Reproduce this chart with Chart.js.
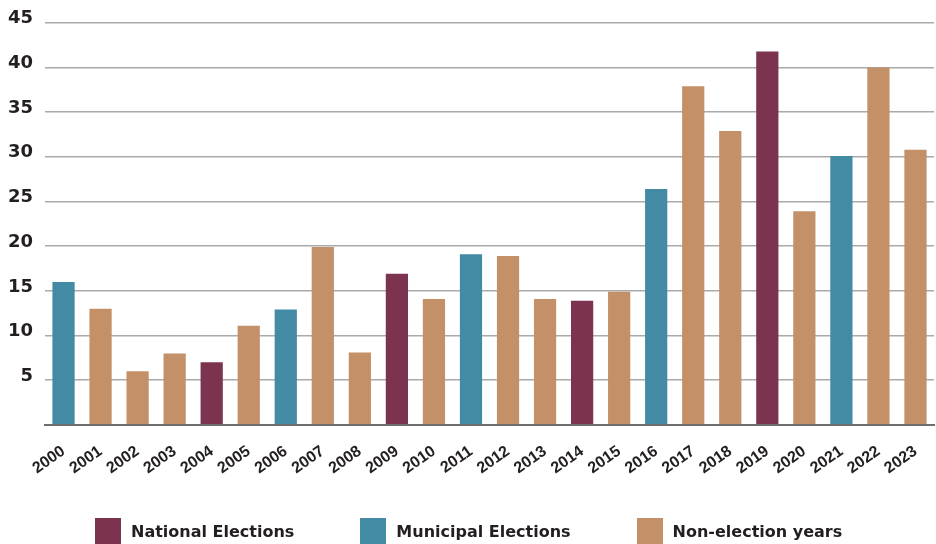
<!DOCTYPE html>
<html>
<head>
<meta charset="utf-8">
<script src="https://cdn.jsdelivr.net/npm/chart.js@4.4.0/dist/chart.umd.min.js"></script>
<style>
    html, body { margin: 0; padding: 0; background: #fff; overflow: hidden; }
    #wrap { position: relative; width: 936px; height: 544px; }
    #legenda {
        position: absolute; left: 95px; top: 518px;
        display: flex; gap: 66px;
        font: bold 16px "DejaVu Sans", sans-serif; color: #231f20;
    }
    .item { display: flex; align-items: center; height: 26px; white-space: nowrap; }
    .kotak { width: 26px; height: 26px; margin-right: 10px; }
</style>
</head>
<body>
<div id="wrap">
    <canvas id="grafikPemilu" width="936" height="544"></canvas>
    <div id="legenda"></div>
</div>
<script>
// Data
const tahun = ['2000', '2001', '2002', '2003', '2004', '2005', '2006', '2007',
               '2008', '2009', '2010', '2011', '2012', '2013', '2014', '2015',
               '2016', '2017', '2018', '2019', '2020', '2021', '2022', '2023'];
const nilai = [16, 13, 6, 8, 7, 11.1, 12.9, 19.9,
               8.1, 16.9, 14.1, 19.1, 18.9, 14.1, 13.9, 14.9,
               26.4, 37.9, 32.9, 41.8, 23.9, 30.1, 40, 30.8];
// N = national, M = municipal, O = non-election
const jenis = ['M', 'O', 'O', 'O', 'N', 'O', 'M', 'O',
               'O', 'N', 'O', 'M', 'O', 'O', 'N', 'O',
               'M', 'O', 'O', 'N', 'O', 'M', 'O', 'O'];
const kodeJenis  = ['N', 'M', 'O'];
const labelJenis = ['National Elections', 'Municipal Elections', 'Non-election years'];
const tickY = [0, 5, 10, 15, 20, 25, 30, 35, 40, 45];

const warnaJenis = {
    'N': '#7b3350',
    'M': '#438ba5',
    'O': '#c49068',
};

const ctx = document.getElementById('grafikPemilu').getContext('2d');

new Chart(ctx, {
    type: 'bar',
    data: {
        labels: tahun,
        datasets: [{
            data: nilai,
            backgroundColor: jenis.map(j => warnaJenis[j]),
            barPercentage: 0.6,
            categoryPercentage: 1
        }]
    },
    options: {
        responsive: false,
        animation: false,
        layout: {
            padding: { top: 10, left: 8, right: 2, bottom: 49 }
        },
        plugins: {
            legend: { display: false },
            tooltip: { enabled: false }
        },
        scales: {
            x: {
                // label miring tidak boleh menggeser area grafik
                afterFit: scale => {
                    scale.paddingLeft = 0;
                    scale.paddingRight = 0;
                },
                grid: { display: false, drawTicks: false },
                border: { display: true, color: '#6d6e71', width: 2 },
                ticks: {
                    autoSkip: false,
                    minRotation: 35,
                    maxRotation: 35,
                    padding: 17,
                    color: '#231f20',
                    font: { family: '"Liberation Sans", Arial, sans-serif', weight: 'bold', size: 16 }
                }
            },
            y: {
                min: 0,
                max: 45,
                afterBuildTicks: scale => {
                    scale.ticks = tickY.map(v => ({ value: v }));
                },
                afterFit: scale => {
                    scale.width = 37;
                },
                grid: { color: '#aaaaaa', lineWidth: 1.5, drawTicks: false },
                border: { display: false },
                ticks: {
                    padding: 12,
                    labelOffset: -4,
                    color: '#231f20',
                    font: { family: '"DejaVu Sans", sans-serif', weight: 'bold', size: 18 },
                    callback: v => v === 0 ? '' : v
                }
            }
        }
    }
});

// Legenda
const legenda = document.getElementById('legenda');
kodeJenis.forEach((kode, i) => {
    legenda.insertAdjacentHTML('beforeend',
        `<div class="item"><span class="kotak" style="background:${warnaJenis[kode]}"></span>${labelJenis[i]}</div>`);
});
</script>
</body>
</html>
